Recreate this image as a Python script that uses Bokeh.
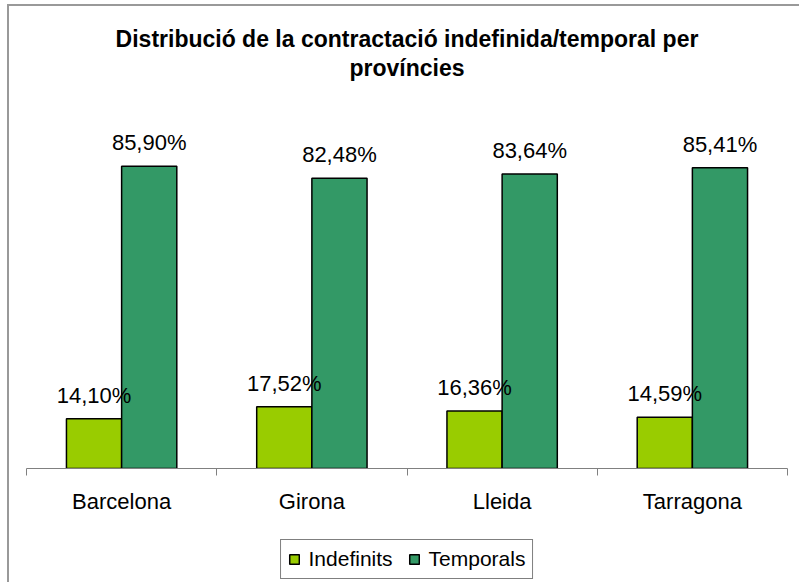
from bokeh.plotting import figure
from bokeh.layouts import column
from bokeh.models import ColumnDataSource, Range1d, FixedTicker, LabelSet, Legend, LegendItem, Label
from bokeh.core.properties import value
from bokeh.transform import dodge
from bokeh.embed import file_html
from bokeh.resources import INLINE

provinces = ["Barcelona", "Girona", "Lleida", "Tarragona"]
indefinits = [14.10, 17.52, 16.36, 14.59]
temporals = [85.90, 82.48, 83.64, 85.41]
series_names = ["Indefinits", "Temporals"]
series_colors = ["#99CC00", "#339966"]
title_lines = ["Distribució de la contractació indefinida/temporal per", "províncies"]


def fmt(v):
    return f"{v:.2f}".replace(".", ",") + "%"


pos = [i + 0.5 for i in range(len(provinces))]
edges = list(range(len(provinces) + 1))
src = ColumnDataSource(dict(
    x=pos,
    ind=indefinits,
    tem=temporals,
    ind_lab=[fmt(v) for v in indefinits],
    tem_lab=[fmt(v) for v in temporals],
))

FONT = "Liberation Sans"
W = 790
H1, H2 = 518, 58
ML, MR, MT, MB = 17, 12, 0, 56
FW, FH = W - ML - MR, H1 - MT - MB
PLOT_H = 352  # pixels spanned by 0..100 %

p = figure(width=W, height=H1, x_range=Range1d(0, len(provinces)),
           y_range=Range1d(0, 100 * FH / PLOT_H),
           output_backend="svg", toolbar_location=None, title=None,
           min_border_left=ML, min_border_right=MR, min_border_top=MT, min_border_bottom=MB)
p.background_fill_color = "white"
p.border_fill_color = "white"
p.outline_line_color = None
p.xgrid.visible = False
p.ygrid.visible = False
p.yaxis.visible = False

bw = 0.29
style = dict(line_color="black", line_width=1.5)
r1 = p.vbar(x=dodge("x", -bw / 2), top="ind", width=bw, source=src,
            fill_color=series_colors[0], **style)
r2 = p.vbar(x=dodge("x", bw / 2), top="tem", width=bw, source=src,
            fill_color=series_colors[1], **style)

for fld, lab, off in (("ind", "ind_lab", -bw / 2), ("tem", "tem_lab", bw / 2)):
    p.add_layout(LabelSet(x=dodge("x", off), y=fld, text=lab, source=src, y_offset=16,
                          text_align="center", text_baseline="alphabetic",
                          text_font=value(FONT), text_font_size=value("22px"),
                          text_color="black"))

ax = p.xaxis[0]
ax.ticker = FixedTicker(ticks=pos, minor_ticks=edges)
ax.major_label_overrides = {x: name for x, name in zip(pos, provinces)}
ax.major_tick_out = 0
ax.major_tick_in = 0
ax.minor_tick_out = 7
ax.minor_tick_in = 0
ax.minor_tick_line_color = "#808080"
ax.axis_line_color = "#808080"
ax.major_label_standoff = 13
ax.major_label_text_font = FONT
ax.major_label_text_font_size = "22px"
ax.major_label_text_color = "black"

for txt, cy in zip(title_lines, (32, 61)):
    p.add_layout(Label(x=FW / 2, y=FH - cy, x_units="screen", y_units="screen", text=txt,
                       text_align="center", text_baseline="middle", text_font=FONT,
                       text_font_size="23px", text_font_style="bold", text_color="black"))

# legend figure: hidden copies of the series bars only feed the legend glyphs
n = len(provinces)
p2 = figure(width=W, height=H2, x_range=Range1d(0, n), y_range=Range1d(0, 100),
            output_backend="svg", toolbar_location=None, title=None,
            min_border_left=ML, min_border_right=MR, min_border_top=0, min_border_bottom=0)
p2.background_fill_color = "white"
p2.border_fill_color = "white"
p2.outline_line_color = None
p2.xgrid.visible = False
p2.ygrid.visible = False
p2.xaxis.visible = False
p2.yaxis.visible = False
l1 = p2.vbar(x="x", top="ind", width=bw, source=src, fill_color=series_colors[0],
             visible=False, **style)
l2 = p2.vbar(x="x", top="tem", width=bw, source=src, fill_color=series_colors[1],
             visible=False, **style)

legend = Legend(items=[LegendItem(label=series_names[0], renderers=[l1]),
                       LegendItem(label=series_names[1], renderers=[l2])],
                orientation="horizontal", location="bottom_center",
                glyph_width=12, glyph_height=12, label_standoff=9, spacing=15,
                padding=7, margin=3, border_line_color="black", border_line_width=1,
                label_text_font=FONT, label_text_font_size="21px", label_text_color="black",
                background_fill_color="white", background_fill_alpha=1,
                inactive_fill_alpha=0)
p2.add_layout(legend)

layout = column(p, p2, spacing=0)
layout.styles = {"border-left": "2px solid #999999", "border-top": "2px solid #999999",
                 "margin-left": "7px", "margin-top": "4px"}

open("out.html", "w").write(file_html(layout, INLINE))
